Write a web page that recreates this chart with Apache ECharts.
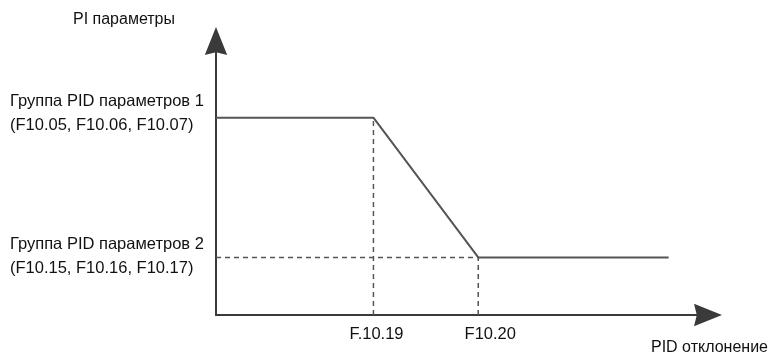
<!DOCTYPE html>
<html><head><meta charset="utf-8">
<script src="https://cdn.jsdelivr.net/npm/echarts@6/dist/echarts.min.js"></script>
<style>html,body{margin:0;padding:0;background:#fff}#c{width:768px;height:357px}</style>
</head><body><div id="c"></div>
<script>
// Data (abstract units on 0..100 axes)
var xTickValues = [32, 53.3];
var xTickLabels = ['F.10.19', 'F10.20'];
var yTickValues = [72, 21];
var yTickLabels = [['Группа PID параметров 1', '(F10.05, F10.06, F10.07)'], ['Группа PID параметров 2', '(F10.15, F10.16, F10.17)']];
var curveX = [0, 32, 53.3, 92];
var curveY = [72, 72, 21, 21];
var yAxisTitle = 'PI параметры';
var xAxisTitle = 'PID отклонение';

var FONT = 'Liberation Sans, Arial, sans-serif';
var arrowPath = 'path://M12,0 L24,30 L12,27 L0,30 Z';
var chart = echarts.init(document.getElementById('c'));
var curve = curveX.map(function (x, i) { return [x, curveY[i]]; });
var dashStyle = { color: '#555', width: 1.5, type: [5, 4] };
var xRichKeys = ['a', 'b'];
var ySpacerKeys = ['s1', 's2'];
chart.setOption({
  animation: false,
  grid: { left: 216, right: 60, top: 41, bottom: 42, outerBoundsMode: 'none', containLabel: false },
  xAxis: {
    type: 'value', min: 0, max: 100,
    name: xAxisTitle, nameLocation: 'end', nameGap: -57,
    nameTextStyle: { fontFamily: FONT, fontSize: 16, color: '#111', align: 'left', verticalAlign: 'top', padding: [25, 0, 0, 0] },
    axisLine: { show: true, symbol: ['none', arrowPath], symbolSize: [23, 28], lineStyle: { color: '#3a3a3a', width: 2 } },
    axisTick: { show: false },
    splitLine: { show: false },
    axisLabel: {
      customValues: xTickValues, margin: 11,
      fontFamily: FONT, fontSize: 16.5, color: '#111',
      rich: {
        a: { fontFamily: FONT, fontSize: 16.5, color: '#111', padding: [0, 0, 0, 6] },
        b: { fontFamily: FONT, fontSize: 16.5, color: '#111', padding: [0, 0, 0, 24] }
      },
      formatter: function (v) { var i = xTickValues.indexOf(v); return i >= 0 ? '{' + xRichKeys[i] + '|' + xTickLabels[i] + '}' : ''; }
    }
  },
  yAxis: {
    type: 'value', min: 0, max: 100,
    name: yAxisTitle, nameLocation: 'end', nameGap: 21,
    nameTextStyle: { fontFamily: FONT, fontSize: 16, color: '#111', align: 'right', verticalAlign: 'middle', padding: [0, 41, 0, 0] },
    axisLine: { show: true, symbol: ['none', arrowPath], symbolSize: [23, 28], lineStyle: { color: '#3a3a3a', width: 2 } },
    axisTick: { show: false },
    splitLine: { show: false },
    axisLabel: {
      customValues: yTickValues, margin: 206, align: 'left',
      fontFamily: FONT, fontSize: 16.5, color: '#111',
      rich: {
        t: { fontFamily: FONT, fontSize: 16.5, color: '#111', lineHeight: 24, align: 'left' },
        s1: { fontSize: 1, lineHeight: 8 },
        s2: { fontSize: 1, lineHeight: 2 }
      },
      formatter: function (v) {
        var i = yTickValues.indexOf(v);
        if (i < 0) return '';
        return '{t|' + yTickLabels[i][0] + '}\n{t|' + yTickLabels[i][1] + '}\n{' + ySpacerKeys[i] + '| }';
      }
    }
  },
  series: [
    { type: 'line', data: curve, symbol: 'none', lineStyle: { color: '#555', width: 2 }, z: 3 },
    { type: 'line', data: [[xTickValues[0], 0], [xTickValues[0], curveY[1]]], symbol: 'none', lineStyle: dashStyle },
    { type: 'line', data: [[xTickValues[1], 0], [xTickValues[1], curveY[2]]], symbol: 'none', lineStyle: dashStyle },
    { type: 'line', data: [[0, curveY[2]], [xTickValues[1], curveY[2]]], symbol: 'none', lineStyle: dashStyle }
  ]
});
</script></body></html>
